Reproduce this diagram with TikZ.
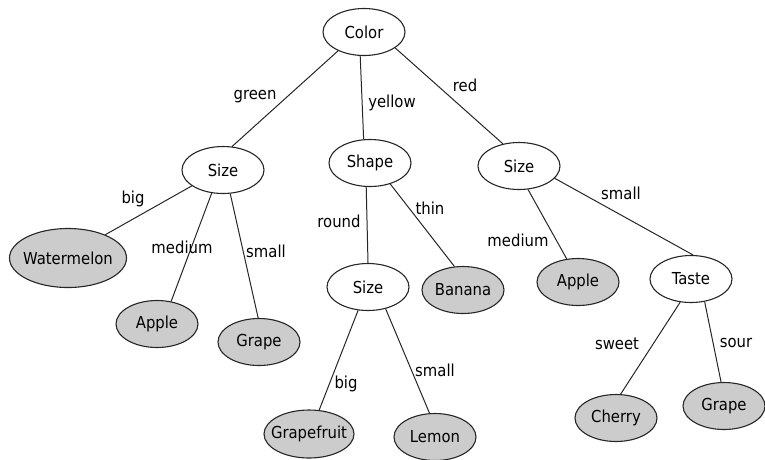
\documentclass[tikz,border=0pt]{standalone}
\usepackage{fontspec}
\setmainfont{DejaVu Sans Condensed}
\usetikzlibrary{shapes.geometric}
\begin{document}
\begin{tikzpicture}[x=1pt,y=-1pt,
  font=\fontsize{16.5}{19}\selectfont,
  tnode/.style={ellipse, draw=black!85, line width=1.1pt, minimum width=82pt, minimum height=47pt, inner sep=0pt, fill=white},
  leaf/.style={tnode, fill=gray!40},
  edge/.style={draw=black!85, line width=1pt},
  elabel/.style={anchor=base, inner sep=0pt}]
\useasboundingbox (0,0) rectangle (765,459);
% nodes
\node[tnode] (color) at (364,32) {\makebox[0pt]{Color}};
\node[tnode] (sizeg) at (223,170) {\makebox[0pt]{Size}};
\node[tnode] (shape) at (370,163) {\makebox[0pt]{Shape}};
\node[tnode] (sizer) at (519,166) {\makebox[0pt]{Size}};
\node[leaf, minimum width=117pt, minimum height=59pt] (water) at (68,258) {\makebox[0pt]{Watermelon}};
\node[leaf] (apple1) at (157,324) {\makebox[0pt]{Apple}};
\node[leaf] (grape1) at (259,342) {\makebox[0pt]{Grape}};
\node[tnode] (sizey) at (368,287) {\makebox[0pt]{Size}};
\node[leaf] (banana) at (463,290) {\makebox[0pt]{Banana}};
\node[leaf] (apple2) at (578,282) {\makebox[0pt]{Apple}};
\node[tnode] (taste) at (691,279) {\makebox[0pt]{Taste}};
\node[leaf, minimum width=90pt, minimum height=48pt] (gfruit) at (309,434) {\makebox[0pt]{Grapefruit}};
\node[leaf] (lemon) at (435,437) {\makebox[0pt]{Lemon}};
\node[leaf] (cherry) at (616,418) {\makebox[0pt]{Cherry}};
\node[leaf] (grape2) at (724,406) {\makebox[0pt]{Grape}};
% edges
\draw[edge] (color.216) -- (sizeg.69);
\draw[edge] (color.261) -- (shape.105);
\draw[edge] (color.333) -- (sizer.126);
\draw[edge] (sizeg.207) -- (water.32);
\draw[edge] (sizeg.244) -- (apple1.58);
\draw[edge] (sizeg.287) -- (grape1.92);
\draw[edge] (shape.261) -- (sizey.90);
\draw[edge] (shape.314) -- (banana.110);
\draw[edge] (sizer.291) -- (apple2.116);
\draw[edge] (sizer.341) -- (taste.85);
\draw[edge] (sizey.247) -- (gfruit.67);
\draw[edge] (sizey.309) -- (lemon.103);
\draw[edge] (taste.245) -- (cherry.79);
\draw[edge] (taste.301) -- (grape2.97);
% edge labels
\node[elabel] (lgreen) at (255,99) {green};
\node[elabel] (lyellow) at (392,107) {yellow};
\node[elabel] (lred) at (465,91) {red};
\node[elabel] (lbig1) at (133,203) {big};
\node[elabel] (lmed1) at (182,253) {medium};
\node[elabel] (lsmall1) at (266,257) {small};
\node[elabel] (lround) at (339,227) {round};
\node[elabel] (lthin) at (430,214) {thin};
\node[elabel] (lmed2) at (518,246) {medium};
\node[elabel] (lsmall2) at (621,199) {small};
\node[elabel] (lbig2) at (346,388) {big};
\node[elabel] (lsmall3) at (435,376) {small};
\node[elabel] (lsweet) at (617,349) {sweet};
\node[elabel] (lsour) at (736,347) {sour};
\end{tikzpicture}
\end{document}
